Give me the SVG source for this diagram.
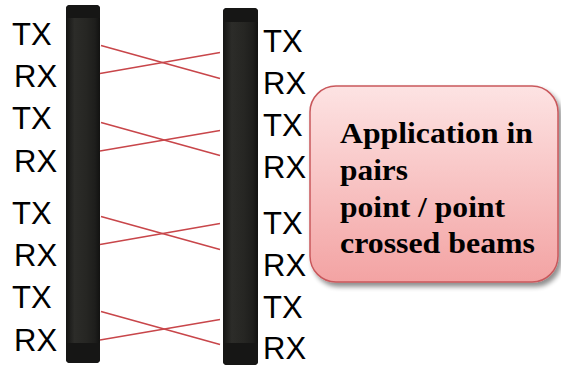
<svg xmlns="http://www.w3.org/2000/svg" width="561" height="367" viewBox="0 0 561 367">
<defs>
<linearGradient id="pole" x1="0" y1="0" x2="1" y2="0">
<stop offset="0" stop-color="#141413"/>
<stop offset="0.25" stop-color="#2c2c29"/>
<stop offset="0.6" stop-color="#262623"/>
<stop offset="0.85" stop-color="#1e1e1c"/>
<stop offset="1" stop-color="#121211"/>
</linearGradient>
<linearGradient id="box" x1="0" y1="0" x2="0" y2="1">
<stop offset="0" stop-color="#fde3e3"/>
<stop offset="1" stop-color="#f3a3a3"/>
</linearGradient>
<filter id="sh" x="-10%" y="-10%" width="130%" height="130%">
<feGaussianBlur in="SourceAlpha" stdDeviation="2.5"/>
<feOffset dx="3" dy="4" result="b"/>
<feComponentTransfer><feFuncA type="linear" slope="0.45"/></feComponentTransfer>
<feMerge><feMergeNode/><feMergeNode in="SourceGraphic"/></feMerge>
</filter>
</defs>
<style>
.lbl{font-family:"Liberation Sans",Arial,sans-serif;font-size:31px;fill:#000}
.beam{stroke:#c8464a;stroke-width:1.6;fill:none}
.cap{fill:#161615}
.t{font-family:"Liberation Serif","Times New Roman",serif;font-size:29px;font-weight:bold;fill:#000}
</style>
<g id="left-pole">
<rect x="66" y="5" width="34" height="358" rx="4" fill="url(#pole)"/>
<path class="cap" d="M66,18 V9 Q66,5 70,5 H96 Q100,5 100,9 V18 Z"/>
<path class="cap" d="M66,343 H100 V359 Q100,363 96,363 H70 Q66,363 66,359 Z"/>
<text class="lbl" x="12" y="45">TX</text>
<text class="lbl" x="14" y="87">RX</text>
<text class="lbl" x="12" y="129">TX</text>
<text class="lbl" x="14" y="172">RX</text>
<text class="lbl" x="12" y="224">TX</text>
<text class="lbl" x="14" y="266">RX</text>
<text class="lbl" x="12" y="308">TX</text>
<text class="lbl" x="14" y="351">RX</text>
</g>
<g id="right-pole">
<rect x="223" y="8" width="35" height="357" rx="4" fill="url(#pole)"/>
<path class="cap" d="M223,22 V12 Q223,8 227,8 H254 Q258,8 258,12 V22 Z"/>
<path class="cap" d="M223,343 H258 V361 Q258,365 254,365 H227 Q223,365 223,361 Z"/>
<text class="lbl" x="263" y="52">TX</text>
<text class="lbl" x="263" y="94">RX</text>
<text class="lbl" x="263" y="136">TX</text>
<text class="lbl" x="263" y="178">RX</text>
<text class="lbl" x="263" y="234">TX</text>
<text class="lbl" x="263" y="276">RX</text>
<text class="lbl" x="263" y="318">TX</text>
<text class="lbl" x="263" y="359">RX</text>
</g>
<g id="connectors">
<line class="beam" x1="101" y1="45.5" x2="220" y2="78.5"/>
<line class="beam" x1="100" y1="73.5" x2="220" y2="52.5"/>
<line class="beam" x1="101" y1="122.5" x2="220" y2="155.5"/>
<line class="beam" x1="100" y1="151" x2="220" y2="130.5"/>
<line class="beam" x1="101" y1="216.5" x2="220" y2="249.5"/>
<line class="beam" x1="100" y1="244.5" x2="220" y2="223.5"/>
<line class="beam" x1="101" y1="311.5" x2="220" y2="344.5"/>
<line class="beam" x1="100" y1="340" x2="220" y2="319.5"/>
</g>
<g id="info-box">
<rect x="310" y="86" width="248" height="196" rx="26" fill="url(#box)" stroke="#c9585c" stroke-width="1.5" filter="url(#sh)"/>
<text class="t" x="340" y="143" textLength="193" lengthAdjust="spacingAndGlyphs">Application in</text>
<text class="t" x="340" y="180" textLength="68" lengthAdjust="spacingAndGlyphs">pairs</text>
<text class="t" x="340" y="216.5" textLength="165" lengthAdjust="spacingAndGlyphs">point / point</text>
<text class="t" x="340" y="253" textLength="195" lengthAdjust="spacingAndGlyphs">crossed beams</text>
</g>
</svg>
